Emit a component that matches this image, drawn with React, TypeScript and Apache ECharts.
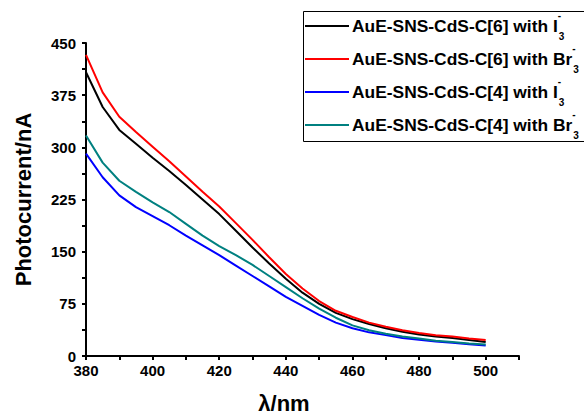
import React, { useEffect, useRef } from "react";
import * as echarts from "echarts";

const wavelengths = [380, 385, 390, 395, 400, 405, 410, 415, 420, 425, 430, 435, 440, 445, 450, 455, 460, 465, 470, 475, 480, 485, 490, 495, 500];
const c6I3 = [408, 358, 325, 305, 285, 266, 246, 225, 204, 180, 156, 133, 111, 91, 75, 62, 53, 46, 40, 35, 31, 28, 26, 23, 20];
const c6Br3 = [433, 379, 344, 322, 301, 280, 258, 236, 215, 191, 167, 142, 118, 97, 79, 65, 56, 48, 42, 37, 33, 30, 28, 25, 23];
const c4I3 = [291, 257, 231, 214, 201, 188, 173, 159, 145, 130, 115, 100, 85, 72, 59, 48, 40, 34, 30, 26, 23.5, 21, 19, 17, 15];
const c4Br3 = [317, 278, 252, 236, 221, 207, 190, 173, 158, 145, 131, 115, 99, 83, 68, 55, 44, 37, 32, 28, 25, 22, 20, 18, 16.5];

const seriesNames = [
  "AuE-SNS-CdS-C[6] with I",
  "AuE-SNS-CdS-C[6] with Br",
  "AuE-SNS-CdS-C[4] with I",
  "AuE-SNS-CdS-C[4] with Br",
];
const seriesData = [c6I3, c6Br3, c4I3, c4Br3];
const seriesColors = ["#000000", "#ff0000", "#0000ff", "#008080"];

const yTickLabels = [0, 75, 150, 225, 300, 375, 450];
const xTickLabels = [380, 400, 420, 440, 460, 480, 500];

const FONT = "Liberation Sans";

function legendGraphic() {
  const boxLeft = 303.5;
  const boxTop = 11.5;
  const rowStep = 33;
  const firstRow = 26;
  const els: any[] = [
    {
      type: "rect",
      shape: { x: boxLeft, y: boxTop, width: 330, height: 130 },
      style: { fill: "#fff", stroke: "#000", lineWidth: 1 },
      z: 10,
    },
  ];
  seriesNames.forEach((name, i) => {
    const cy = firstRow + rowStep * i;
    els.push({
      type: "line",
      shape: { x1: 305, y1: cy, x2: 349, y2: cy },
      style: { stroke: seriesColors[i], lineWidth: 2 },
      z: 11,
    });
    els.push({
      type: "text",
      x: 352,
      y: cy,
      z: 11,
      style: {
        text: `{t|${name}}{sup|-}{sub|3}`,
        verticalAlign: "middle",
        align: "left",
        fill: "#000",
        rich: {
          t: { fontFamily: FONT, fontWeight: "bold", fontSize: 17.4, lineHeight: 19, fill: "#000" },
          sup: { fontFamily: FONT, fontWeight: "bold", fontSize: 10, lineHeight: 22, verticalAlign: "top", width: 1, fill: "#000" },
          sub: { fontFamily: FONT, fontWeight: "bold", fontSize: 10, lineHeight: 31, verticalAlign: "bottom", fill: "#000" },
        },
      },
    });
  });
  return els;
}

export default function App() {
  const ref = useRef<HTMLDivElement>(null);
  useEffect(() => {
    if (!ref.current) return;
    const chart = echarts.init(ref.current, null, { renderer: "svg" });
    chart.setOption({
      animation: false,
      backgroundColor: "#ffffff",
      grid: { left: 86, right: 65, top: 43, bottom: 57 },
      graphic: legendGraphic(),
      xAxis: {
        type: "value",
        min: 380,
        max: 510,
        interval: 10,
        name: "λ/nm",
        nameLocation: "middle",
        nameGap: 36,
        nameTextStyle: { fontFamily: FONT, fontWeight: "bold", fontSize: 22, color: "#000", padding: [0, 37, 0, 0] },
        axisLine: { show: true, onZero: false, lineStyle: { color: "#000", width: 2 } },
        axisTick: { show: true, length: 4, lineStyle: { color: "#000", width: 2 } },
        axisLabel: {
          margin: 7,
          fontFamily: FONT,
          fontWeight: "bold",
          fontSize: 15,
          color: "#000",
          formatter: (v: number) => (xTickLabels.includes(v) ? String(v) : ""),
        },
        splitLine: { show: false },
      },
      yAxis: {
        type: "value",
        min: 0,
        max: 450,
        interval: 37.5,
        name: "Photocurrent/nA",
        nameLocation: "middle",
        nameGap: 52,
        nameTextStyle: { fontFamily: FONT, fontWeight: "bold", fontSize: 22, color: "#000" },
        axisLine: { show: true, lineStyle: { color: "#000", width: 2 } },
        axisTick: { show: true, length: 4, lineStyle: { color: "#000", width: 2 } },
        axisLabel: {
          margin: 10,
          fontFamily: FONT,
          fontWeight: "bold",
          fontSize: 15,
          color: "#000",
          formatter: (v: number) => (yTickLabels.includes(v) ? String(v) : ""),
        },
        splitLine: { show: false },
      },
      series: seriesNames.map((name, i) => ({
        name,
        type: "line",
        symbol: "none",
        showSymbol: false,
        smooth: false,
        color: seriesColors[i],
        lineStyle: { color: seriesColors[i], width: 2 },
        data: wavelengths.map((x, j) => [x, seriesData[i][j]]),
      })),
    });
    return () => chart.dispose();
  }, []);
  return <div ref={ref} style={{ position: "absolute", left: 0, top: 0, width: 584, height: 419 }} />;
}
